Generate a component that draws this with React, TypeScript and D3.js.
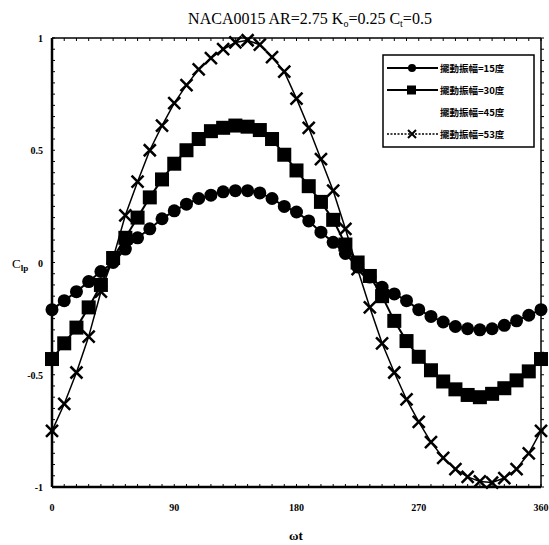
import React from "react";
import * as d3 from "d3";

const angles = [0, 9, 18, 27, 36, 45, 54, 63, 72, 81, 90, 99, 108, 117, 126, 135, 144, 153, 162, 171, 180, 189, 198, 207, 216, 225, 234, 243, 252, 261, 270, 279, 288, 297, 306, 315, 324, 333, 342, 351, 360];

const amp15 = [-0.21, -0.17, -0.13, -0.085, -0.04, 0.0, 0.06, 0.11, 0.15, 0.195, 0.23, 0.26, 0.285, 0.3, 0.315, 0.32, 0.32, 0.31, 0.285, 0.25, 0.225, 0.185, 0.135, 0.09, 0.04, -0.02, -0.065, -0.11, -0.14, -0.17, -0.21, -0.24, -0.265, -0.285, -0.295, -0.3, -0.295, -0.28, -0.26, -0.235, -0.21];

const amp30 = [-0.43, -0.36, -0.29, -0.2, -0.1, 0.02, 0.11, 0.2, 0.29, 0.37, 0.44, 0.5, 0.55, 0.585, 0.6, 0.61, 0.605, 0.59, 0.55, 0.48, 0.41, 0.34, 0.27, 0.19, 0.08, 0.0, -0.06, -0.15, -0.26, -0.35, -0.42, -0.48, -0.53, -0.565, -0.59, -0.6, -0.585, -0.56, -0.525, -0.485, -0.43];

const amp53 = [-0.75, -0.63, -0.49, -0.33, -0.13, 0.02, 0.21, 0.36, 0.5, 0.61, 0.71, 0.79, 0.86, 0.91, 0.95, 0.98, 0.99, 0.97, 0.915, 0.85, 0.73, 0.6, 0.46, 0.32, 0.15, -0.03, -0.2, -0.36, -0.49, -0.61, -0.71, -0.8, -0.87, -0.92, -0.955, -0.975, -0.98, -0.96, -0.92, -0.85, -0.75];

const xTicks = [0, 90, 180, 270, 360];
const yTicks = [1, 0.5, 0, -0.5, -1];
const yTickLabels = ["1", "0.5", "0", "-0.5", "-1"];
const legendLabels = ["擺動振幅=15度", "擺動振幅=30度", "擺動振幅=45度", "擺動振幅=53度"];

const W = 549;
const H = 545;
const L = 52, R = 541, T = 38, B = 487;

export default function App() {
  const x = d3.scaleLinear().domain([0, 360]).range([L, R]);
  const y = d3.scaleLinear().domain([-1, 1]).range([B, T]);
  const line = d3
    .line<number>()
    .x((_, i) => x(angles[i]))
    .y((d) => y(d));

  const minorY = d3.range(-1, 1.0001, 0.05);
  const minorX = d3.range(0, 360.001, 9);

  const serif = "'Liberation Serif', 'DejaVu Serif', serif";

  const crossPath = (cx: number, cy: number, s: number) =>
    `M${cx - s},${cy - s}L${cx + s},${cy + s}M${cx - s},${cy + s}L${cx + s},${cy - s}`;

  const legX = 383, legY = 55, legW = 151, legH = 92;
  const rowY = [68, 90, 112, 134];

  return (
    <svg width={W} height={H} style={{ position: "absolute", left: 0, top: 0, background: "#fff" }}>
      <rect x={0} y={0} width={W} height={H} fill="#fff" />
      {/* title */}
      <text x={310} y={24} textAnchor="middle" fontFamily={serif} fontSize={16} fill="#000">
        NACA0015  AR=2.75  K
        <tspan fontSize={10} dy={3}>o</tspan>
        <tspan dy={-3}>=0.25  C</tspan>
        <tspan fontSize={10} dy={3}>t</tspan>
        <tspan dy={-3}>=0.5</tspan>
      </text>

      {/* frame */}
      <line x1={L} y1={T} x2={R} y2={T} stroke="#000" strokeWidth={1.5} />
      <line x1={R} y1={T} x2={R} y2={B} stroke="#000" strokeWidth={1.5} />
      <line x1={L} y1={T} x2={L} y2={B} stroke="#000" strokeWidth={2.5} />
      <line x1={L} y1={B} x2={R} y2={B} stroke="#000" strokeWidth={2.5} />

      {/* minor ticks */}
      {minorY.map((v, i) => (
        <g key={"my" + i}>
          <line x1={L} x2={L + 3} y1={y(v)} y2={y(v)} stroke="#000" strokeWidth={1} />
          <line x1={R} x2={R + 3} y1={y(v)} y2={y(v)} stroke="#000" strokeWidth={1} />
        </g>
      ))}
      {minorX.map((v, i) => (
        <g key={"mx" + i}>
          <line x1={x(v)} x2={x(v)} y1={B} y2={B - 3} stroke="#000" strokeWidth={1} />
          <line x1={x(v)} x2={x(v)} y1={T} y2={T + 3} stroke="#000" strokeWidth={1} />
        </g>
      ))}

      {/* tick labels */}
      {yTicks.map((v, i) => (
        <text key={"yt" + i} x={43} y={y(v) + 4} textAnchor="end" fontFamily={serif} fontSize={10} fontWeight="bold" fill="#000">
          {yTickLabels[i]}
        </text>
      ))}
      {xTicks.map((v, i) => (
        <text key={"xt" + i} x={x(v)} y={511} textAnchor="middle" fontFamily={serif} fontSize={10} fontWeight="bold" fill="#000">
          {v}
        </text>
      ))}

      {/* axis titles */}
      <text x={12} y={268} fontFamily={serif} fontSize={13} fill="#000">
        C<tspan fontSize={9} dy={3} fontWeight="bold">lp</tspan>
      </text>
      <text x={296} y={540} textAnchor="middle" fontFamily={serif} fontSize={13} fontWeight="bold" fill="#000">
        ωt
      </text>

      {/* series 53 */}
      <path d={line(amp53) || ""} fill="none" stroke="#000" strokeWidth={1.5} />
      {amp53.map((v, i) => (
        <path key={"c" + i} d={crossPath(x(angles[i]), y(v), 6)} stroke="#000" strokeWidth={2.5} fill="none" />
      ))}

      {/* series 30 */}
      <path d={line(amp30) || ""} fill="none" stroke="#000" strokeWidth={2} />
      {amp30.map((v, i) => (
        <rect key={"s" + i} x={x(angles[i]) - 7} y={y(v) - 7} width={14} height={14} fill="#000" />
      ))}

      {/* series 15 */}
      <path d={line(amp15) || ""} fill="none" stroke="#000" strokeWidth={2} />
      {amp15.map((v, i) => (
        <circle key={"o" + i} cx={x(angles[i])} cy={y(v)} r={6.5} fill="#000" />
      ))}

      {/* legend */}
      <rect x={legX} y={legY} width={legW} height={legH} fill="#fff" stroke="#000" strokeWidth={1.5} />
      <line x1={387} x2={438} y1={rowY[0]} y2={rowY[0]} stroke="#000" strokeWidth={2} />
      <circle cx={412} cy={rowY[0]} r={4} fill="#000" />
      <line x1={387} x2={438} y1={rowY[1]} y2={rowY[1]} stroke="#000" strokeWidth={2} />
      <rect x={407} y={rowY[1] - 4.5} width={9} height={9} fill="#000" />
      <line x1={387} x2={438} y1={rowY[3]} y2={rowY[3]} stroke="#000" strokeWidth={1.5} strokeDasharray="2,1.5" />
      <path d={crossPath(412, rowY[3], 4)} stroke="#000" strokeWidth={2} fill="none" />
      {legendLabels.map((t, i) => (
        <text key={"lg" + i} x={440} y={rowY[i] + 3.5} fontFamily="'Noto Sans CJK TC', sans-serif" fontSize={9.5} fontWeight="bold" fill="#000">
          {t}
        </text>
      ))}
    </svg>
  );
}
